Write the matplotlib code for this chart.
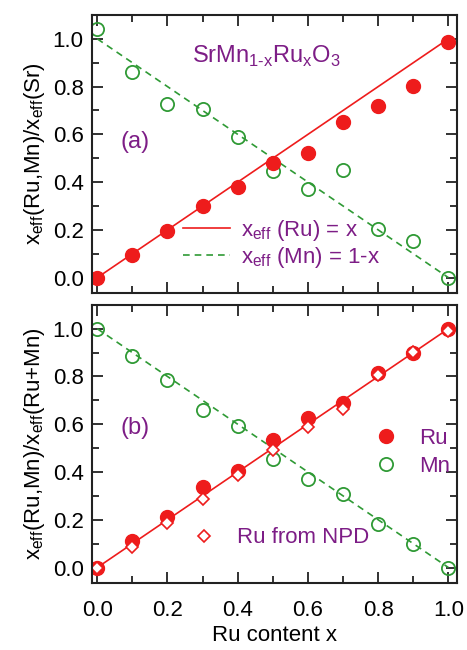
import numpy as np
import matplotlib.pyplot as plt
from matplotlib.ticker import MultipleLocator

plt.rcParams['font.family'] = ['Liberation Sans', 'DejaVu Sans']
plt.rcParams['mathtext.fontset'] = 'custom'
plt.rcParams['mathtext.rm'] = 'Liberation Sans'

# Contenido de Ru
x = [0.0, 0.1, 0.2, 0.3, 0.4, 0.5, 0.6, 0.7, 0.8, 0.9, 1.0]

# (a) normalizado a Sr
ru_a = [0.0, 0.094, 0.196, 0.298, 0.378, 0.480, 0.522, 0.653, 0.717, 0.801, 0.986]
mn_a = [1.042, 0.860, 0.727, 0.708, 0.589, 0.445, 0.371, 0.452, 0.203, 0.152, 0.0]

# (b) normalizado a Ru+Mn
ru_b = [0.0, 0.112, 0.212, 0.338, 0.404, 0.533, 0.628, 0.690, 0.815, 0.900, 0.997]
mn_b = [0.997, 0.886, 0.785, 0.660, 0.591, 0.456, 0.370, 0.307, 0.181, 0.100, 0.0]
ru_npd = [0.0, 0.084, 0.188, 0.286, 0.386, 0.491, 0.589, 0.665, 0.805, 0.902, 0.990]

# Rectas x_eff = x y 1-x
x_linea = [0.0, 1.0]
ru_linea = [0.0, 1.0]
mn_linea = [1.0, 0.0]

rojo = '#ee1c1c'
verde = '#2f9a35'
morado = '#7d1d86'
fs = 16

fig = plt.figure(figsize=(4.67, 6.5), dpi=100)
ax1 = fig.add_axes([0.197, 0.549, 0.782, 0.428])
ax2 = fig.add_axes([0.197, 0.103, 0.782, 0.428])

for ax in (ax1, ax2):
    ax.set_xlim(-0.015, 1.025)
    ax.set_ylim(-0.065, 1.10)
    ax.xaxis.set_major_locator(MultipleLocator(0.2))
    ax.xaxis.set_minor_locator(MultipleLocator(0.1))
    ax.yaxis.set_major_locator(MultipleLocator(0.2))
    ax.yaxis.set_minor_locator(MultipleLocator(0.1))
    ax.tick_params(which='both', direction='in', top=True, right=True,
                   labelsize=fs, width=1.3, color='#222222')
    ax.tick_params(which='major', length=8)
    ax.tick_params(which='minor', length=5)
    ax.tick_params(axis='x', pad=12)
    ax.tick_params(axis='y', pad=6)
    for s in ax.spines.values():
        s.set_linewidth(1.5)
        s.set_color('#222222')
    ax.yaxis.set_major_formatter(plt.FormatStrFormatter('%.1f'))
    ax.xaxis.set_major_formatter(plt.FormatStrFormatter('%.1f'))

# Panel (a)
l1, = ax1.plot(x_linea, ru_linea, '-', color=rojo, lw=1.2)
l2, = ax1.plot(x_linea, mn_linea, '--', color=verde, lw=1.2, dashes=(4, 3))
ax1.plot(x, mn_a, 'o', ms=9.5, mfc='none', mec=verde, mew=1.3)
ax1.plot(x, ru_a, 'o', ms=10, color=rojo)
ax1.tick_params(labelbottom=False)
ax1.set_ylabel(r'x$_{\mathregular{eff}}$(Ru,Mn)/x$_{\mathregular{eff}}$(Sr)', fontsize=fs,
               labelpad=4)
ax1.text(0.27, 0.9, r'SrMn$_{\mathregular{1\text{-}x}}$Ru$_{\mathregular{x}}$O$_{\mathregular{3}}$',
         color=morado, fontsize=fs + 1)
ax1.text(0.065, 0.57, '(a)', color=morado, fontsize=fs + 1, va='center')
ax1.legend([l1, l2],
           [r'x$_{\mathregular{eff}}$ (Ru) = x', r'x$_{\mathregular{eff}}$ (Mn) = 1-x'],
           loc='center left', bbox_to_anchor=(0.25, 0.177), frameon=False,
           fontsize=fs, labelcolor=morado, handlelength=2.1, handletextpad=0.5,
           labelspacing=0.1, borderpad=0, borderaxespad=0)

# Panel (b)
ax2.plot(x_linea, ru_linea, '-', color=rojo, lw=1.2)
ax2.plot(x_linea, mn_linea, '--', color=verde, lw=1.2, dashes=(4, 3))
h_mn, = ax2.plot(x, mn_b, 'o', ms=9.5, mfc='none', mec=verde, mew=1.3)
h_ru, = ax2.plot(x, ru_b, 'o', ms=10, color=rojo)
h_npd, = ax2.plot(x, ru_npd, 'D', ms=6, mfc='white', mec=rojo, mew=1.2)
ax2.set_ylabel(r'x$_{\mathregular{eff}}$(Ru,Mn)/x$_{\mathregular{eff}}$(Ru+Mn)', fontsize=fs,
               labelpad=4)
ax2.set_xlabel('Ru content x', fontsize=fs, labelpad=3)
ax2.text(0.065, 0.586, '(b)', color=morado, fontsize=fs + 1, va='center')
leg1 = ax2.legend([h_ru, h_mn], ['Ru', 'Mn'], loc='center left',
                  bbox_to_anchor=(0.775, 0.47), frameon=False, fontsize=fs,
                  labelcolor=morado, handlelength=1.0, handletextpad=1.0,
                  labelspacing=0.3, borderpad=0, borderaxespad=0)
ax2.add_artist(leg1)
ax2.legend([h_npd], ['Ru from NPD'], loc='center left',
           bbox_to_anchor=(0.275, 0.162), frameon=False, fontsize=fs,
           labelcolor=morado, handlelength=1.0, handletextpad=1.0,
           borderpad=0, borderaxespad=0)

fig.savefig('out.png', dpi=100)
